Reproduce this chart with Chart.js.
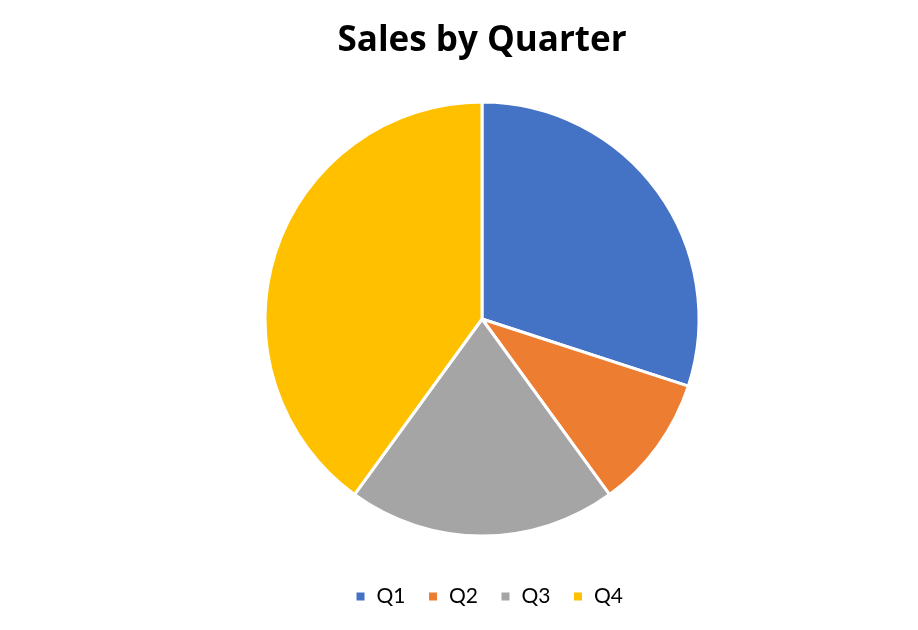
<!DOCTYPE html>
<html>
<head>
<meta charset="utf-8">
<script src="https://cdn.jsdelivr.net/npm/chart.js@4"></script>
<style>
html,body{margin:0;padding:0;background:#fff;}
#wrap{width:918px;height:630px;position:relative;}
</style>
</head>
<body>
<div id="wrap"><canvas id="c" width="918" height="630"></canvas></div>
<script>
const categories = ['Q1', 'Q2', 'Q3', 'Q4'];
const salesValues = [30, 10, 20, 40];
const sliceColors = ['#4472C4', '#ED7D31', '#A5A5A5', '#FFC000'];
const chartTitle = 'Sales by Quarter';

const legendShift = {
  id: 'legendShift',
  afterLayout(chart) {
    if (chart.legend) { chart.legend.left += 7; chart.legend.right += 7; }
  }
};

new Chart(document.getElementById('c'), {
  type: 'pie',
  data: {
    labels: categories,
    datasets: [{
      data: salesValues,
      backgroundColor: sliceColors,
      borderColor: '#ffffff',
      borderWidth: 3,
      radius: 217
    }]
  },
  plugins: [legendShift],
  options: {
    responsive: false,
    animation: false,
    devicePixelRatio: 1,
    layout: { padding: { left: 46, right: 0, top: 0, bottom: 13 } },
    plugins: {
      title: {
        display: true,
        text: chartTitle,
        color: '#000000',
        font: { family: 'Open Sans', size: 35, weight: 'bold' },
        padding: { top: 20, bottom: 12 }
      },
      legend: {
        position: 'bottom',
        labels: {
          color: '#000000',
          font: { family: 'Lato', size: 21 },
          boxWidth: 11,
          boxHeight: 11,
          padding: 22
        }
      },
      tooltip: { enabled: false }
    }
  }
});
</script>
</body>
</html>
